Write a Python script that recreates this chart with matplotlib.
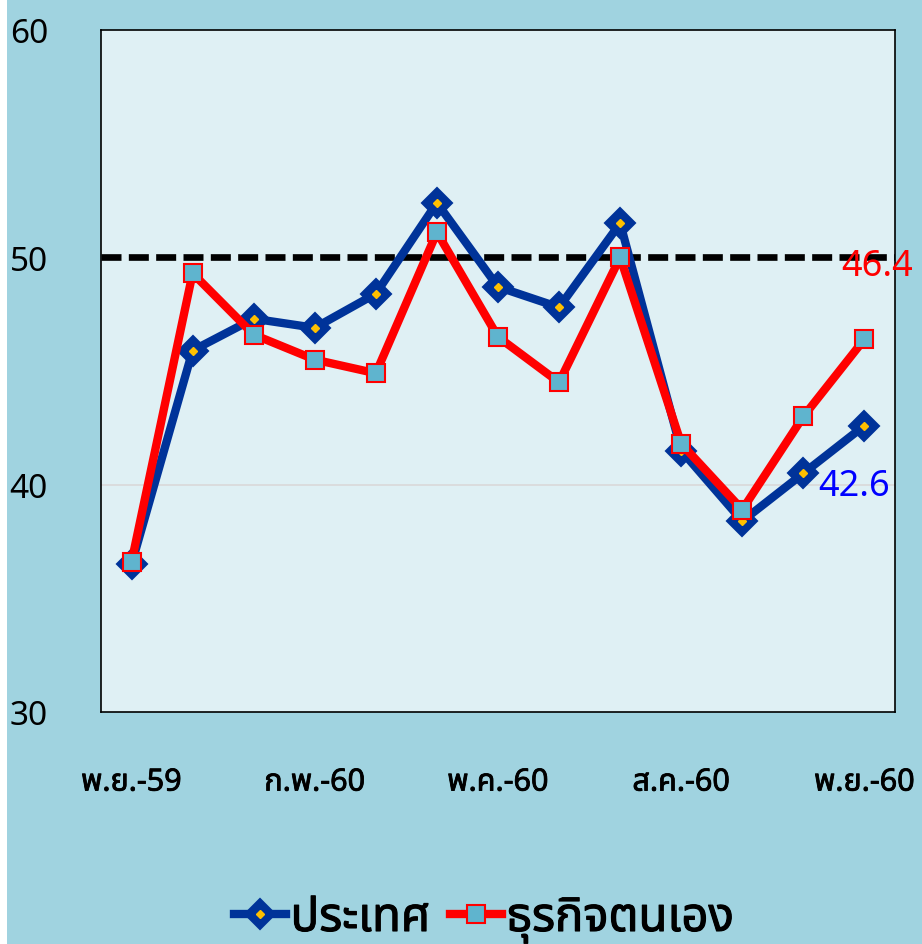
import matplotlib
matplotlib.use("Agg")
import matplotlib.pyplot as plt
from matplotlib import font_manager
from matplotlib.ft2font import FT2Font
from matplotlib.legend_handler import HandlerTuple
import matplotlib.patches as mpatches
import matplotlib.patheffects as pe

# ---------------- data ----------------
months = ["พ.ย.-59", "ธ.ค.-59", "ม.ค.-60", "ก.พ.-60", "มี.ค.-60", "เม.ย.-60", "พ.ค.-60",
          "มิ.ย.-60", "ก.ค.-60", "ส.ค.-60", "ก.ย.-60", "ต.ค.-60", "พ.ย.-60"]
tick_idx = [0, 3, 6, 9, 12]
country = [36.5, 45.9, 47.3, 46.9, 48.4, 52.4, 48.7, 47.8, 51.5, 41.5, 38.4, 40.5, 42.6]
own_business = [36.6, 49.3, 46.6, 45.5, 44.9, 51.1, 46.5, 44.5, 50.0, 41.8, 38.9, 43.0, 46.4]
series_names = ["ประเทศ", "ธุรกิจตนเอง"]
y_ticks = [30, 40, 50, 60]
threshold = 50

# ---------------- font with Thai glyphs ----------------
def find_thai_font():
    pref = ["Noto Sans Thai", "Noto Sans Thai UI", "Tahoma", "Loma", "Garuda",
            "Sarabun", "Kinnari", "Norasi", "Waree", "Umpush", "Laksaman"]
    found = {}
    for f in font_manager.fontManager.ttflist:
        try:
            cm = FT2Font(f.fname).get_charmap()
        except Exception:
            continue
        if 0x0E1B in cm and 0x0E28 in cm:
            found.setdefault(f.name, f.fname)
    for p in pref:
        if p in found:
            return p
    if found:
        return sorted(found)[0]
    return None

thai = find_thai_font()
fam = [thai, "DejaVu Sans"] if thai else ["DejaVu Sans"]
plt.rcParams["font.family"] = fam

outer_bg = "#A0D3E0"
inner_bg = "#DFF0F4"
blue = "#003399"
red = "#FF0000"

fig = plt.figure(figsize=(9.22, 9.45), dpi=100)
fig.patch.set_facecolor("white")
fig.add_artist(mpatches.Rectangle((7 / 922, 0), 1, 1, transform=fig.transFigure,
                                  facecolor=outer_bg, edgecolor="none", zorder=-10))

ax = fig.add_axes([101 / 922, 1 - 713 / 945, (895 - 101) / 922, (713 - 31) / 945])
ax.set_facecolor(inner_bg)
x = list(range(len(months)))
ax.set_xlim(-0.5, len(months) - 0.5)
ax.set_ylim(30, 60)

ax.axhline(40, color="#D9D9D9", lw=1.2, zorder=1)
ax.axhline(threshold, color="black", lw=4.8, ls=(0, (3.0, 1.1)), zorder=2)

l1, = ax.plot(x, country, color=blue, lw=6, marker="D", ms=15, mfc=blue, mec=blue,
              mew=1.5, zorder=3, solid_joinstyle="round")
d1, = ax.plot(x, country, ls="none", marker="D", ms=4, mfc="#FFC000", mec="#FFC000", zorder=4)
l2, = ax.plot(x, own_business, color=red, lw=6, marker="s", ms=13, mfc="#5FB4CE", mec=red,
              mew=1.5, zorder=5, solid_joinstyle="round")

ax.text(x[-1] - 0.75, country[-1] - 2.65, f"{country[-1]:.1f}", color="#0000FF", fontsize=26,
        ha="left", va="center", zorder=6)
ax.text(x[-1] + 0.79, own_business[-1] + 3.2, f"{own_business[-1]:.1f}", color=red, fontsize=26,
        ha="right", va="center", zorder=6, clip_on=False)

bold = [pe.withStroke(linewidth=0.6, foreground="black")]
ax.set_xticks([x[i] for i in tick_idx])
ax.set_xticklabels([months[i] for i in tick_idx], fontsize=22)
for lab in ax.get_xticklabels():
    lab.set_path_effects(bold)
ax.tick_params(axis="x", length=0, pad=40)
ax.set_yticks(y_ticks)
ax.set_yticklabels([str(v) for v in y_ticks], fontsize=24)
ax.tick_params(axis="y", length=0, pad=0)
for lab in ax.get_yticklabels():
    lab.set_horizontalalignment("left")
    lab.set_x(-0.115)
for s in ax.spines.values():
    s.set_color("black")
    s.set_linewidth(1.2)

leg = fig.legend([(l1, d1), l2], series_names, loc="center", bbox_to_anchor=(484 / 922, 1 - 920 / 945),
                 ncol=2, frameon=False, fontsize=34, handlelength=1.1, handletextpad=0.1,
                 columnspacing=0.4, handler_map={tuple: HandlerTuple(ndivide=1)})
for t in leg.get_texts():
    t.set_path_effects([pe.withStroke(linewidth=0.8, foreground="black")])

fig.savefig("out.png", dpi=100, facecolor=fig.get_facecolor())
